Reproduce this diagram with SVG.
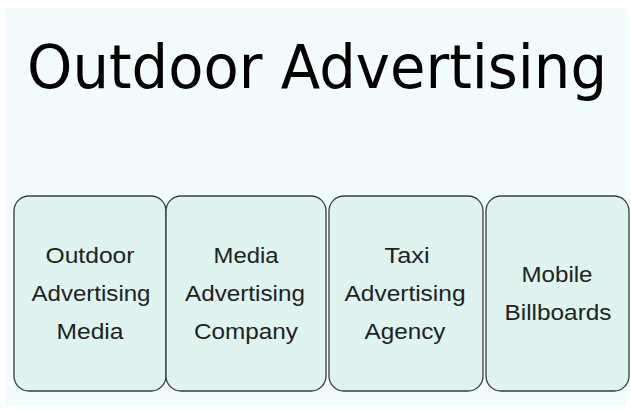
<svg xmlns="http://www.w3.org/2000/svg" width="631" height="410" viewBox="0 0 631 410">
<style>
.box{fill:#dff3f1;stroke:#3a3a3a;stroke-width:1.3}
.lbl{font-family:"Liberation Sans",Arial,sans-serif;font-size:22px;fill:#222;text-anchor:middle}
.title{font-family:"DejaVu Sans","Liberation Sans",sans-serif;font-size:60px;fill:#000}
</style>
<rect x="0" y="0" width="631" height="410" fill="#ffffff"/>
<rect x="5" y="8" width="622" height="398" fill="#f2fcfc"/>
<text class="title" x="27" y="88" textLength="580" lengthAdjust="spacingAndGlyphs">Outdoor Advertising</text>
<g id="node1">
<rect class="box" x="14" y="196" width="152" height="195" rx="15"/>
<text class="lbl" x="90" y="263" textLength="89" lengthAdjust="spacingAndGlyphs">Outdoor</text>
<text class="lbl" x="91" y="301" textLength="119" lengthAdjust="spacingAndGlyphs">Advertising</text>
<text class="lbl" x="90" y="339" textLength="67" lengthAdjust="spacingAndGlyphs">Media</text>
</g>
<g id="node2">
<rect class="box" x="166" y="196" width="160" height="195" rx="15"/>
<text class="lbl" x="246" y="263" textLength="65" lengthAdjust="spacingAndGlyphs">Media</text>
<text class="lbl" x="245" y="301" textLength="120" lengthAdjust="spacingAndGlyphs">Advertising</text>
<text class="lbl" x="246" y="339" textLength="104" lengthAdjust="spacingAndGlyphs">Company</text>
</g>
<g id="node3">
<rect class="box" x="329" y="196" width="154" height="195" rx="15"/>
<text class="lbl" x="407" y="263" textLength="45" lengthAdjust="spacingAndGlyphs">Taxi</text>
<text class="lbl" x="405" y="301" textLength="121" lengthAdjust="spacingAndGlyphs">Advertising</text>
<text class="lbl" x="405" y="339" textLength="81" lengthAdjust="spacingAndGlyphs">Agency</text>
</g>
<g id="node4">
<rect class="box" x="486" y="196" width="143" height="195" rx="15"/>
<text class="lbl" x="557" y="282" textLength="71" lengthAdjust="spacingAndGlyphs">Mobile</text>
<text class="lbl" x="558" y="320" textLength="107" lengthAdjust="spacingAndGlyphs">Billboards</text>
</g>
<g id="connectors"></g>
</svg>
